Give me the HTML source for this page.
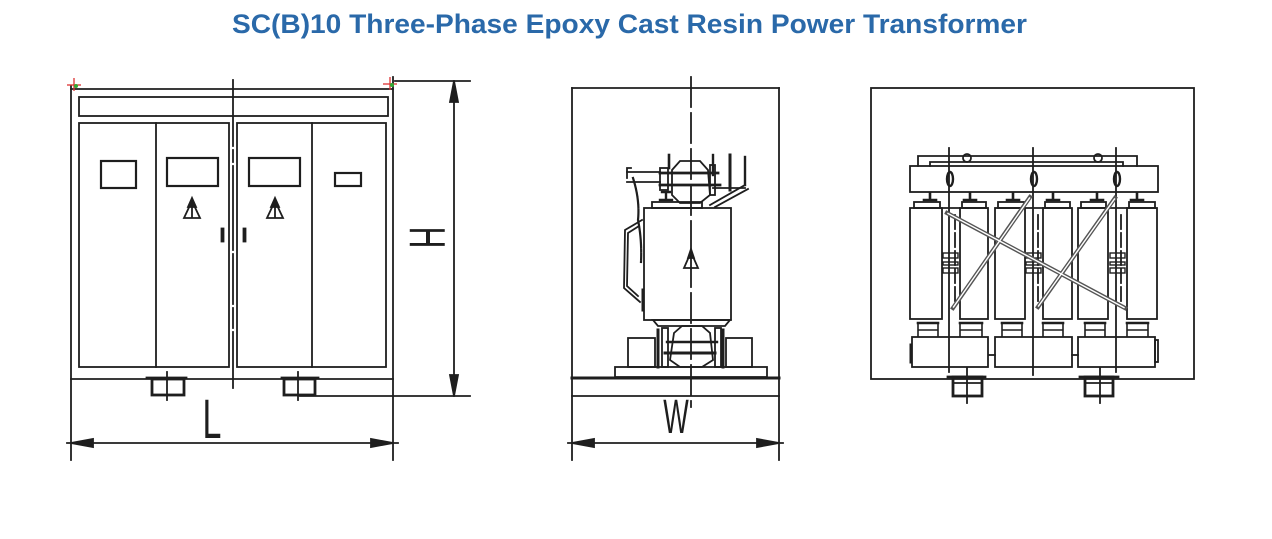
<!DOCTYPE html>
<html><head><meta charset="utf-8"><style>
html,body{margin:0;padding:0;background:#fff;}
svg{display:block;}
</style></head><body>
<svg width="1272" height="539" viewBox="0 0 1272 539" xmlns="http://www.w3.org/2000/svg">
<rect width="1272" height="539" fill="#fff"/>
<!-- Title -->
<text x="629.5" y="33" text-anchor="middle" font-family="Liberation Sans, sans-serif" font-weight="bold" font-size="27" fill="#2a69a9" textLength="795" lengthAdjust="spacingAndGlyphs">SC(B)10 Three-Phase Epoxy Cast Resin Power Transformer</text>

<g stroke="#1e1e1e" stroke-width="1.8" fill="none" stroke-linecap="square">
<!-- ===== Diagram 1 ===== -->
<line x1="71" y1="89" x2="393" y2="89"/>
<line x1="71" y1="86" x2="71" y2="460"/>
<line x1="393" y1="77" x2="393" y2="460"/>
<line x1="71" y1="379" x2="393" y2="379"/>
<rect x="79" y="97" width="309" height="19"/>
<rect x="79" y="123" width="150" height="244"/>
<line x1="156" y1="123" x2="156" y2="367"/>
<rect x="237" y="123" width="149" height="244"/>
<line x1="312" y1="123" x2="312" y2="367"/>
<line x1="233" y1="80" x2="233" y2="388" stroke-dasharray="66 4 12 4 84 4 50 4 20 4 70"/>
<!-- windows -->
<rect x="101" y="161" width="35" height="27" stroke-width="2.2"/>
<rect x="167" y="158" width="51" height="28" stroke-width="2.2"/>
<rect x="249" y="158" width="51" height="28" stroke-width="2.2"/>
<rect x="335" y="173" width="26" height="13" stroke-width="2.2"/>
<!-- warning triangles -->
<path d="M192,201 L184,218 L200,218 Z"/>
<line x1="192" y1="203" x2="192" y2="217"/>
<path d="M192,198 L188,207 L196,207 Z" fill="#1e1e1e"/>
<path d="M275,201 L267,218 L283,218 Z"/>
<line x1="275" y1="203" x2="275" y2="217"/>
<path d="M275,198 L271,207 L279,207 Z" fill="#1e1e1e"/>
<!-- handles -->
<rect x="221" y="228" width="3" height="14" fill="#1e1e1e" stroke-width="0.8"/>
<rect x="243" y="228" width="3" height="14" fill="#1e1e1e" stroke-width="0.8"/>
<!-- feet -->
<line x1="147" y1="378" x2="186" y2="378" stroke-width="2.8"/>
<rect x="152" y="379" width="32" height="16" stroke-width="2.8"/>
<line x1="167" y1="372" x2="167" y2="400"/>
<line x1="282" y1="378" x2="318" y2="378" stroke-width="2.8"/>
<rect x="284" y="379" width="31" height="16" stroke-width="2.8"/>
<line x1="298" y1="372" x2="298" y2="400"/>
<!-- H dimension -->
<line x1="395" y1="81" x2="470" y2="81"/>
<line x1="300" y1="396" x2="470" y2="396"/>
<line x1="454" y1="81" x2="454" y2="396"/>
<path d="M454,81 L450,102 L458,102 Z" fill="#1e1e1e"/>
<path d="M454,396 L450,375 L458,375 Z" fill="#1e1e1e"/>
<!-- L dimension -->
<line x1="67" y1="443" x2="398" y2="443"/>
<path d="M71,443 L93,439 L93,447 Z" fill="#1e1e1e"/>
<path d="M393,443 L371,439 L371,447 Z" fill="#1e1e1e"/>

<!-- ===== Diagram 2 ===== -->
<line x1="572" y1="88" x2="779" y2="88"/>
<line x1="572" y1="88" x2="572" y2="460"/>
<line x1="779" y1="88" x2="779" y2="460"/>
<line x1="572" y1="378" x2="779" y2="378" stroke-width="3"/>
<line x1="572" y1="396" x2="779" y2="396"/>
<line x1="568" y1="443" x2="783" y2="443"/>
<path d="M572,443 L594,439 L594,447 Z" fill="#1e1e1e"/>
<path d="M779,443 L757,439 L757,447 Z" fill="#1e1e1e"/>
<line x1="691" y1="77" x2="691" y2="407" stroke-dasharray="30 6"/>
<!-- body -->
<rect x="644" y="208" width="87" height="112"/>
<path d="M691,252 L684,268 L698,268 Z"/>
<path d="M691,249 L688,258 L694,258 Z" fill="#1e1e1e"/>
<!-- left tank -->
<path d="M642,220 L625,230 L624,288 L640,302"/>
<path d="M639,226 L628,233 L627,286 L638,296"/>
<line x1="643" y1="290" x2="643" y2="310" stroke-width="3"/>
<path d="M633,178 Q640,200 638,220 Q642,240 641,262" stroke-dasharray="2 2" stroke-width="2.2"/>
<!-- top assembly -->
<path d="M672,170 L680,161 L700,161 L708,170 L710,195 L700,203 L680,203 L672,195 Z"/>
<line x1="660" y1="173" x2="718" y2="173" stroke-width="2.8"/>
<line x1="660" y1="185" x2="720" y2="185" stroke-width="2.8"/>
<rect x="660" y="168" width="8" height="22"/>
<line x1="627" y1="172" x2="660" y2="172"/>
<line x1="627" y1="182" x2="660" y2="182"/>
<path d="M631,168 L627,168 L627,178"/>
<line x1="669" y1="155" x2="669" y2="168" stroke-width="2.6"/>
<path d="M662,192 L670,192 M666,192 L666,200 M660,200 L672,200" stroke-width="2.4"/>
<rect x="652" y="202" width="50" height="6"/>
<rect x="710" y="165" width="5" height="30"/>
<line x1="713" y1="155" x2="713" y2="175" stroke-width="2.4"/>
<line x1="730" y1="155" x2="730" y2="190" stroke-width="3"/>
<line x1="745" y1="157" x2="745" y2="185" stroke-width="2.4"/>
<line x1="713" y1="188" x2="745" y2="188"/>
<line x1="710" y1="205" x2="745" y2="185"/>
<line x1="715" y1="207" x2="748" y2="189"/>
<!-- bottom assembly -->
<path d="M653,320 L730,320 L725,326 L658,326 Z"/>
<path d="M674,333 L682,326 L702,326 L710,333 L713,360 L702,367 L680,367 L670,360 Z"/>
<line x1="667" y1="342" x2="717" y2="342" stroke-width="2.4"/>
<line x1="665" y1="353" x2="715" y2="353" stroke-width="3"/>
<line x1="658" y1="330" x2="658" y2="367" stroke-width="3"/>
<line x1="723" y1="330" x2="723" y2="367" stroke-width="3"/>
<rect x="662" y="328" width="6" height="39"/>
<rect x="715" y="328" width="6" height="39"/>
<rect x="628" y="338" width="27" height="29"/>
<rect x="726" y="338" width="26" height="29"/>
<rect x="615" y="367" width="152" height="10"/>

<!-- ===== Diagram 3 ===== -->
<rect x="871" y="88" width="323" height="291"/>
<path d="M918,166 L918,156 L1137,156 L1137,166"/>
<path d="M930,166 L930,162 L1123,162 L1123,166"/>
<circle cx="967" cy="158" r="4"/>
<circle cx="1098" cy="158" r="4"/>
<rect x="910" y="166" width="248" height="26"/>
<!-- phase lines -->
<line x1="949" y1="148" x2="949" y2="372"/>
<line x1="1033" y1="148" x2="1033" y2="375"/>
<line x1="1116" y1="148" x2="1116" y2="372"/>
<line x1="955" y1="215" x2="955" y2="305" stroke-dasharray="14 4"/>
<line x1="1038" y1="215" x2="1038" y2="305" stroke-dasharray="14 4"/>
<line x1="1121" y1="215" x2="1121" y2="305" stroke-dasharray="14 4"/>
<ellipse cx="950" cy="179" rx="3" ry="7" stroke-width="2.4"/>
<ellipse cx="1034" cy="179" rx="3" ry="7" stroke-width="2.4"/>
<ellipse cx="1117" cy="179" rx="3" ry="7" stroke-width="2.4"/>
<!-- pads top -->
<g stroke-width="2.6">
<path d="M924,200 L936,200 M930,193 L930,200"/>
<path d="M964,200 L976,200 M970,193 L970,200"/>
<path d="M1007,200 L1019,200 M1013,193 L1013,200"/>
<path d="M1047,200 L1059,200 M1053,193 L1053,200"/>
<path d="M1091,200 L1103,200 M1097,193 L1097,200"/>
<path d="M1131,200 L1143,200 M1137,193 L1137,200"/>
</g>
<rect x="914" y="202" width="26" height="6"/>
<rect x="962" y="202" width="24" height="6"/>
<rect x="998" y="202" width="26" height="6"/>
<rect x="1045" y="202" width="25" height="6"/>
<rect x="1081" y="202" width="25" height="6"/>
<rect x="1129" y="202" width="26" height="6"/>
<!-- coils -->
<rect x="910" y="208" width="32" height="111"/>
<rect x="960" y="208" width="28" height="111"/>
<rect x="995" y="208" width="30" height="111"/>
<rect x="1043" y="208" width="29" height="111"/>
<rect x="1078" y="208" width="30" height="111"/>
<rect x="1127" y="208" width="30" height="111"/>
<line x1="942" y1="208" x2="960" y2="208"/>
<line x1="1025" y1="208" x2="1043" y2="208"/>
<line x1="1108" y1="208" x2="1127" y2="208"/>
<!-- clamp symbols -->
<g stroke-width="1.4">
<rect x="943" y="253" width="15" height="5"/><rect x="943" y="262" width="15" height="3"/><rect x="943" y="268" width="15" height="5"/>
<rect x="1026" y="253" width="15" height="5"/><rect x="1026" y="262" width="15" height="3"/><rect x="1026" y="268" width="15" height="5"/>
<rect x="1110" y="253" width="15" height="5"/><rect x="1110" y="262" width="15" height="3"/><rect x="1110" y="268" width="15" height="5"/>
</g>
<!-- braces -->
<g stroke="#555" stroke-width="4.2">
<line x1="947" y1="213" x2="1125" y2="308"/>
<line x1="953" y1="308" x2="1030" y2="197"/>
<line x1="1038" y1="307" x2="1115" y2="198"/>
</g>
<g stroke="#fff" stroke-width="1.4">
<line x1="948" y1="213.5" x2="1124" y2="307.5"/>
<line x1="953.5" y1="307" x2="1029.5" y2="198"/>
<line x1="1038.5" y1="306" x2="1114.5" y2="199"/>
</g>
<!-- bottom pads -->
<g stroke-width="1.6">
<path d="M918,336 L918,323 L938,323 L938,336 M918,330 L938,330"/>
<path d="M960,336 L960,323 L982,323 L982,336 M960,330 L982,330"/>
<path d="M1002,336 L1002,323 L1022,323 L1022,336 M1002,330 L1022,330"/>
<path d="M1043,336 L1043,323 L1063,323 L1063,336 M1043,330 L1063,330"/>
<path d="M1085,336 L1085,323 L1105,323 L1105,336 M1085,330 L1105,330"/>
<path d="M1127,336 L1127,323 L1148,323 L1148,336 M1127,330 L1148,330"/>
</g>
<g stroke-width="2.6">
<line x1="918" y1="323" x2="938" y2="323"/><line x1="960" y1="323" x2="982" y2="323"/>
<line x1="1002" y1="323" x2="1022" y2="323"/><line x1="1043" y1="323" x2="1063" y2="323"/>
<line x1="1085" y1="323" x2="1105" y2="323"/><line x1="1127" y1="323" x2="1148" y2="323"/>
</g>
<!-- bottom yoke -->
<rect x="912" y="337" width="76" height="30"/>
<rect x="995" y="337" width="77" height="30"/>
<rect x="1078" y="337" width="77" height="30"/>
<line x1="911" y1="345" x2="911" y2="362" stroke-width="3"/>
<rect x="1155" y="340" width="3" height="22"/>
<line x1="989" y1="355" x2="995" y2="355"/>
<line x1="1072" y1="355" x2="1078" y2="355"/>
<!-- feet -->
<line x1="948" y1="377" x2="985" y2="377" stroke-width="2.8"/>
<rect x="953" y="377" width="29" height="19" stroke-width="2.8"/>
<line x1="967" y1="368" x2="967" y2="403"/>
<line x1="953" y1="383" x2="982" y2="383"/>
<line x1="1080" y1="377" x2="1118" y2="377" stroke-width="2.8"/>
<rect x="1085" y="377" width="28" height="19" stroke-width="2.8"/>
<line x1="1100" y1="368" x2="1100" y2="403"/>
<line x1="1085" y1="383" x2="1113" y2="383"/>
</g>

<!-- corner marks -->
<g stroke="#d33" stroke-width="1.3">
<line x1="67" y1="85" x2="81" y2="85"/><line x1="74" y1="78" x2="74" y2="91"/>
<line x1="383" y1="84" x2="397" y2="84"/><line x1="390" y1="77" x2="390" y2="90"/>
</g>
<circle cx="76" cy="86" r="2" fill="#3a3"/>
<circle cx="392" cy="85" r="2" fill="#3a3"/>

<!-- dimension labels -->
<g fill="#1e1e1e" font-family="Liberation Sans, sans-serif">
<text transform="translate(428,237.5) rotate(90) scale(1.0,1.69)" text-anchor="middle" y="10.9" font-size="30">H</text>
<text transform="translate(212,438) scale(1.0,1.65)" text-anchor="middle" y="0" font-size="34">L</text>
<text transform="translate(676,433) scale(0.9,1.6)" text-anchor="middle" y="0" font-size="30">W</text>
</g>
</svg>
</body></html>
